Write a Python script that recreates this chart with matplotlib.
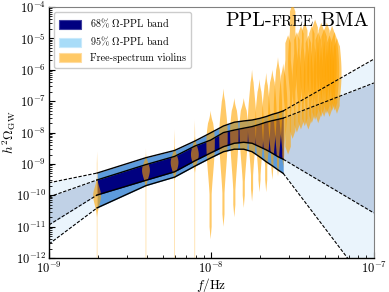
import numpy as np
import matplotlib
matplotlib.use("Agg")
import matplotlib.pyplot as plt
from matplotlib.patches import Patch
from matplotlib.offsetbox import TextArea, HPacker, AnchoredOffsetbox
from matplotlib.ticker import LogLocator, LogFormatterMathtext, NullFormatter

plt.rcParams.update({
    "font.family": "serif",
    "font.serif": ["cmr10", "DejaVu Serif"],
    "mathtext.fontset": "cm",
    "axes.formatter.use_mathtext": True,
    "axes.unicode_minus": False,
})

# ---------------- data ----------------
T_span_yr = 16.03
n_band = 14
n_violin = 30
f1 = 1.0 / (T_span_yr * 3.15576e7)
freqs = f1 * np.arange(1, n_violin + 1)

# log10(h^2 Omega_GW) band edges at the first 14 frequencies
band95_hi = [-9.29, -8.80, -8.57, -8.27, -8.01, -7.79, -7.67, -7.63, -7.60, -7.55, -7.49, -7.42, -7.37, -7.31]
band68_hi = [-9.51, -9.02, -8.76, -8.43, -8.24, -8.00, -7.92, -7.86, -7.81, -7.74, -7.67, -7.62, -7.58, -7.54]
band68_lo = [-9.99, -9.52, -9.25, -8.90, -8.65, -8.45, -8.34, -8.31, -8.34, -8.45, -8.55, -8.66, -8.77, -8.85]
band95_lo = [-10.40, -9.69, -9.42, -9.07, -8.81, -8.61, -8.53, -8.53, -8.61, -8.77, -8.93, -9.06, -9.19, -9.30]

# power-law extrapolation end points (log10) at 1e-9 Hz and 1e-7 Hz
f_ext_left = 1e-9
f_ext_right = 1e-7
ext_left = {"95hi": -9.60, "68hi": -10.05, "68lo": -10.94, "95lo": -11.55}
ext_right = {"95hi": -5.66, "68hi": -6.42, "68lo": -10.56, "95lo": -13.10}

# free-spectrum violins (log10 h^2 Omega_GW): mode, spreads, extent, tail level
vio_mode = [-10.0, -9.2, -8.95, -8.7, -8.3, -8.1, -8.0, -7.9, -7.7, -7.7, -7.6, -7.4, -7.3, -7.2,
            -6.6, -5.8, -6.4, -6.2, -6.0, -6.3, -6.1, -6.0, -6.2, -5.9, -6.1, -6.0, -6.2, -5.9, -6.0, -6.1]
vio_sig_dn = [0.30, 0.25, 0.25, 0.25, 1.0, 1.1, 1.1, 1.0, 1.0, 1.0, 0.9, 0.9, 0.9, 0.8,
              0.8, 0.9, 0.9, 0.9, 0.9, 0.9, 0.9, 0.9, 0.9, 0.9, 0.9, 0.9, 0.9, 0.9, 0.9, 0.9]
vio_sig_up = [0.25, 0.22, 0.22, 0.25, 0.6, 0.8, 0.7, 0.7, 0.9, 0.8, 0.8, 0.9, 1.0, 0.9,
              0.9, 1.0, 0.9, 0.9, 0.9, 0.9, 0.9, 0.9, 0.9, 0.9, 0.9, 0.9, 0.9, 0.9, 0.9, 0.9]
vio_lo = [-12.5, -12.5, -12.5, -12.5, -11.4, -11.0, -10.7, -10.4, -10.2, -9.9, -9.9, -9.5, -9.4, -9.1,
          -8.7, -8.2, -8.0, -7.9, -7.8, -7.9, -7.7, -7.6, -7.7, -7.5, -7.5, -7.4, -7.5, -7.3, -7.3, -7.4]
vio_hi = [-8.6, -8.5, -7.9, -7.6, -7.3, -6.6, -6.9, -6.9, -6.0, -6.3, -6.1, -6.0, -5.6, -5.8,
          -4.9, -3.9, -4.8, -4.6, -4.5, -4.9, -4.6, -4.4, -4.8, -4.5, -4.7, -4.5, -4.9, -4.6, -4.8, -5.0]
vio_tail = [0.06] * 4 + [0.25] * 10 + [0.6] * 16

legend_labels = [r"68% $\Omega$-PPL band", r"95% $\Omega$-PPL band", "Free-spectrum violins"]
x_label = r"$f/\mathrm{Hz}$"
y_label = r"$h^2\Omega_{\rm GW}$"

# ---------------- figure ----------------
fig = plt.figure(figsize=(3.89, 2.92), dpi=100)
ax = fig.add_axes([0.126, 0.116, 0.835, 0.860])
ax.set_xscale("log")
ax.set_yscale("log")
ax.set_xlim(1e-9, 1e-7)
ax.set_ylim(1e-12, 1e-4)

fb = freqs[:n_band]
b95h = 10.0 ** np.array(band95_hi)
b68h = 10.0 ** np.array(band68_hi)
b68l = 10.0 ** np.array(band68_lo)
b95l = 10.0 ** np.array(band95_lo)

col_ext95 = "#eaf4fc"
col_ext68 = "#c0d1e6"
col_95 = "#5d9bdb"
col_68 = "#000080"

# extrapolations
for fe, ext, idx in [(f_ext_left, ext_left, 0), (f_ext_right, ext_right, -1)]:
    fx = np.array([fe, fb[idx]]) if idx == 0 else np.array([fb[idx], fe])
    def seg(key, arr):
        v = np.array([10.0 ** ext[key], arr[idx]])
        return v if idx == 0 else v[::-1]
    s95h, s68h, s68l, s95l = seg("95hi", b95h), seg("68hi", b68h), seg("68lo", b68l), seg("95lo", b95l)
    ax.fill_between(fx, s95l, s95h, color=col_ext95, lw=0, zorder=1)
    ax.fill_between(fx, s68l, s68h, color=col_ext68, lw=0, zorder=1.1)
    for s in (s95h, s68h, s68l, s95l):
        ax.plot(fx, s, ls=(0, (3, 1.5)), color="black", lw=0.8, zorder=4)

# bands
ax.fill_between(fb, b95l, b95h, color=col_95, lw=0, zorder=2)
ax.fill_between(fb, b68l, b68h, color=col_68, lw=0, zorder=2.1)
for s in (b95h, b68h, b68l, b95l):
    ax.plot(fb, s, color="black", lw=1.0, zorder=4)

# violins
ygrid = np.linspace(-13, -3.5, 1200)
for k in range(n_violin):
    c = vio_mode[k]
    sig = np.where(ygrid < c, vio_sig_dn[k], vio_sig_up[k])
    core = np.exp(-0.5 * ((ygrid - c) / sig) ** 2)
    d = np.maximum(core, vio_tail[k] * (ygrid > vio_lo[k]) * (ygrid < vio_hi[k]))
    ramp = 0.4 if k < n_band else 0.25
    taper = np.clip((ygrid - vio_lo[k]) / ramp, 0, 1) * np.clip((vio_hi[k] - ygrid) / ramp, 0, 1)
    d = d * taper
    half_w = 0.024 if k < 4 else (0.026 if k < n_band else 0.028)
    f = freqs[k]
    ax.fill_betweenx(10.0 ** ygrid, f * 10.0 ** (-half_w * d), f * 10.0 ** (half_w * d),
                     color="#ffa500", alpha=0.6, lw=0, zorder=3)

# axes styling
ax.xaxis.set_major_locator(LogLocator(base=10, numticks=10))
ax.yaxis.set_major_locator(LogLocator(base=10, numticks=20))
ax.xaxis.set_minor_locator(LogLocator(base=10, subs=np.arange(2, 10), numticks=20))
ax.yaxis.set_minor_locator(LogLocator(base=10, subs=np.arange(2, 10), numticks=20))
ax.xaxis.set_major_formatter(LogFormatterMathtext())
ax.yaxis.set_major_formatter(LogFormatterMathtext())
ax.xaxis.set_minor_formatter(NullFormatter())
ax.yaxis.set_minor_formatter(NullFormatter())
ax.tick_params(which="both", direction="in", top=False, right=False, labelsize=9)
ax.tick_params(which="major", length=4, width=0.8, pad=2)
ax.tick_params(which="minor", length=2, width=0.6)
for sp in ("top", "right"):
    ax.spines[sp].set_color("#808080")
    ax.spines[sp].set_linewidth(0.8)
for sp in ("left", "bottom"):
    ax.spines[sp].set_linewidth(1.0)

ax.set_xlabel(x_label, fontsize=9.5)
ax.set_ylabel(y_label, fontsize=9.5)
ax.xaxis.set_label_coords(0.5, -0.072)
ax.yaxis.set_label_coords(-0.095, 0.5)

handles = [Patch(facecolor=col_68, edgecolor="#4040a0", lw=0.8),
           Patch(facecolor="#a8dcf8", edgecolor="#c8e9fb", lw=0.8),
           Patch(facecolor="#ffc966", edgecolor="#ffdca0", lw=0.8)]
leg = ax.legend(handles, legend_labels, loc="upper left", fontsize=7.3, frameon=True,
                fancybox=True, edgecolor="#cccccc", framealpha=1.0,
                handlelength=2.2, handleheight=1.0, borderpad=0.5, labelspacing=0.45)
leg.set_zorder(10)

title_parts = [TextArea("PPL-", textprops=dict(fontsize=14.5, family="serif")),
               TextArea("FREE", textprops=dict(fontsize=11, family="serif")),
               TextArea(" BMA", textprops=dict(fontsize=14.5, family="serif"))]
box = HPacker(children=title_parts, align="baseline", pad=0, sep=0)
anch = AnchoredOffsetbox(loc="upper right", child=box, pad=0.1, borderpad=0.3, frameon=False)
anch.set_zorder(10)
ax.add_artist(anch)

fig.savefig("out.png", dpi=100)
